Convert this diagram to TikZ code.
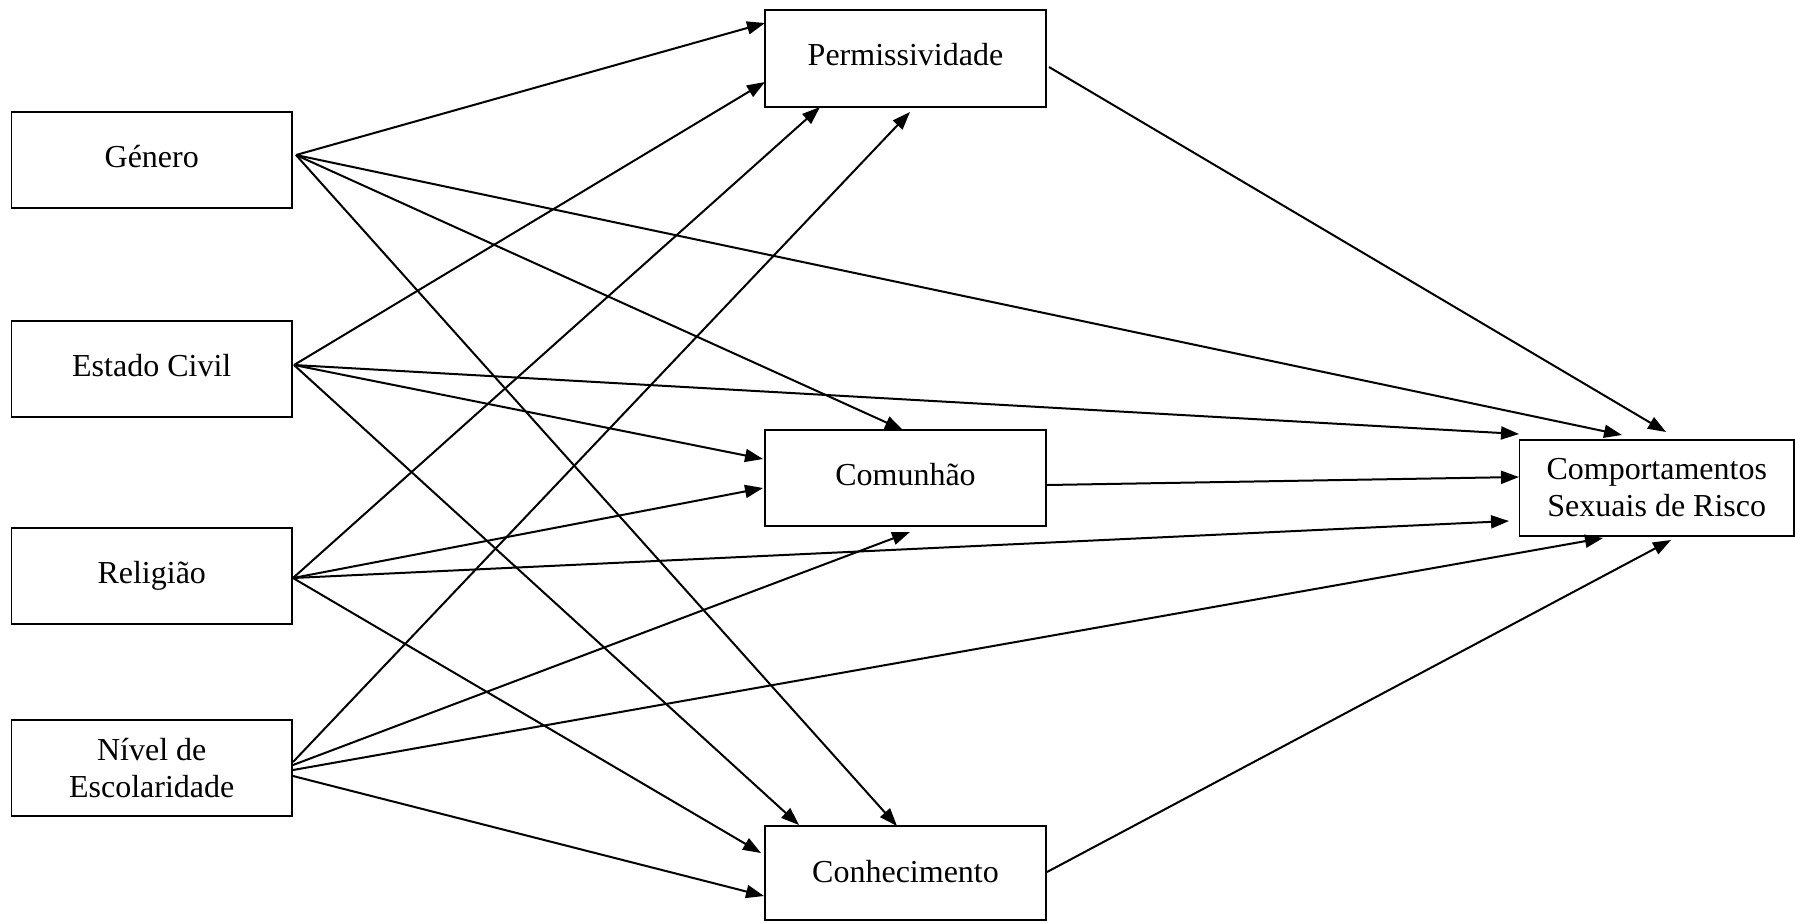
\documentclass[tikz,border=0pt]{standalone}
\usepackage{fontspec}
\setmainfont{Liberation Serif}
\usetikzlibrary{arrows.meta,calc}
\tikzset{
  box/.style={draw=black, line width=1.5pt, rectangle, inner sep=0pt, outer sep=0pt,
    align=center, font=\fontsize{32}{37}\selectfont},
  oneline/.style={text height=23pt, text depth=9pt},
  arr/.style={line width=2pt, -{Triangle[length=18pt,width=13pt]}},
}
\begin{document}
\begin{tikzpicture}[x=1pt,y=-1pt]
\useasboundingbox (0,0) rectangle (1795,922);
% left column
\node[box, oneline, minimum width=280.5pt, minimum height=96pt] (gen) at (151.75,160) {Género};
\node[box, oneline, minimum width=280.5pt, minimum height=96pt] (est) at (151.75,369) {Estado Civil};
\node[box, oneline, minimum width=280.5pt, minimum height=96pt] (rel) at (151.75,576) {Religião};
\node[box, minimum width=280.5pt, minimum height=96pt] (niv) at (151.75,768) {Nível de\\Escolaridade};
% middle column
\node[box, oneline, minimum width=281pt, minimum height=97pt] (perm) at (905.5,58.5) {Permissividade};
\node[box, oneline, minimum width=281pt, minimum height=96pt] (comun) at (905.5,478) {Comunhão};
\node[box, oneline, text depth=4pt, minimum width=281pt, minimum height=94pt] (conh) at (905.5,873) {Conhecimento};
% outcome
\node[box, minimum width=274.5pt, minimum height=96pt] (comp) at (1656.75,488) {Comportamentos\\Sexuais de Risco};
% Genero
\draw[arr] ($(gen.center)+(144.25,-5)$) -- ($(perm.center)+(-140.5,-35.5)$);
\draw[arr] ($(gen.center)+(144.25,-5)$) -- ($(comp.center)+(-34.75,-53)$);
\draw[arr] ($(gen.center)+(144.25,-5)$) -- ($(comun.center)+(-2.5,-48)$);
\draw[arr] ($(gen.center)+(144.25,-5)$) -- ($(conh.center)+(-8.5,-47)$);
% Estado Civil
\draw[arr] ($(est.center)+(142.25,-4)$) -- ($(perm.center)+(-140.5,23.5)$);
\draw[arr] ($(est.center)+(142.25,-4)$) -- ($(comp.center)+(-137.75,-54)$);
\draw[arr] ($(est.center)+(142.25,-4)$) -- ($(comun.center)+(-142.5,-19)$);
\draw[arr] ($(est.center)+(142.25,-4)$) -- ($(conh.center)+(-106.5,-48)$);
% Religiao
\draw[arr] ($(rel.center)+(141.25,2)$) -- ($(perm.center)+(-85.5,48.5)$);
\draw[arr] ($(rel.center)+(141.25,2)$) -- ($(comun.center)+(-142.5,10)$);
\draw[arr] ($(rel.center)+(141.25,2)$) -- ($(comp.center)+(-147.75,33)$);
\draw[arr] ($(rel.center)+(141.25,2)$) -- ($(conh.center)+(-144.5,-20)$);
% Nivel
\draw[arr] ($(niv.center)+(141.25,-6)$) -- ($(perm.center)+(4.5,53.5)$);
\draw[arr] ($(niv.center)+(141.25,-3)$) -- ($(comun.center)+(4.5,54)$);
\draw[arr] ($(niv.center)+(141.25,2)$) -- ($(comp.center)+(-53.75,50)$);
\draw[arr] ($(niv.center)+(141.25,8)$) -- ($(conh.center)+(-141.5,23)$);
% mediators
\draw[arr] ($(perm.center)+(143.5,8.5)$) -- ($(comp.center)+(9.25,-56)$);
\draw[arr] ($(comun.center)+(141.5,7)$) -- ($(comp.center)+(-137.75,-11)$);
\draw[arr] ($(conh.center)+(141.5,-1)$) -- ($(comp.center)+(14.25,52)$);
\end{tikzpicture}
\end{document}
